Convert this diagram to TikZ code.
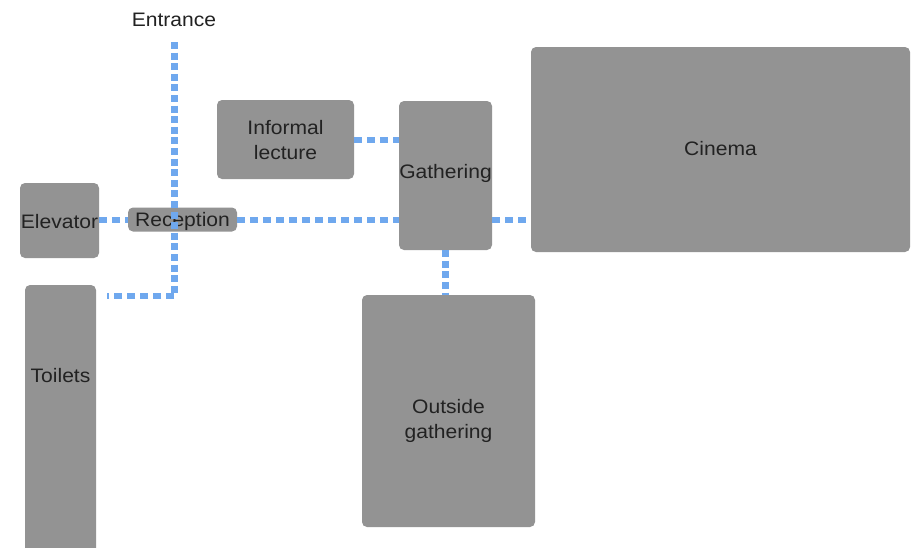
\documentclass[tikz,border=0pt]{standalone}
\usepackage{fontspec}
\setmainfont{Liberation Sans}[FakeStretch=1.08]
\definecolor{roomgray}{HTML}{939393}
\definecolor{pathblue}{HTML}{6FA8EE}
\definecolor{labeltext}{HTML}{222222}
\begin{document}
\begin{tikzpicture}[x=1pt,y=-1pt,
  room/.style={fill=roomgray,draw=none,rounded corners=5pt,inner sep=0pt,
    text=labeltext,font=\fontsize{19.5}{25}\selectfont,align=center},
  lbl/.style={text=labeltext,font=\fontsize{19.5}{25}\selectfont,inner sep=0pt,align=center},
  connh/.style={draw=pathblue,line width=6pt,dash pattern=on 8pt off 5pt},
  connv/.style={draw=pathblue,line width=7pt,dash pattern=on 7pt off 3.6pt}]
\useasboundingbox (0,0) rectangle (917,547);
\clip (0,0) rectangle (917,547);
\fill[white] (0,0) rectangle (917,547);
% rooms
\node[room,minimum width=79pt,minimum height=75pt] (elev) at (59.5,220.5) {};
\node[lbl] (elevlbl) at (59.5,221.5) {Elevator};
\node[room,minimum width=109pt,minimum height=24pt] (recep) at (182.5,219.5) {};
\node[lbl] (receplbl) at (182.5,221) {Reception};
\node[room,minimum width=71pt,minimum height=275pt] (toil) at (60.5,422.5) {};
\node[lbl] (toillbl) at (60.5,376) {Toilets};
\node[room,minimum width=137pt,minimum height=79pt] (inf) at (285.5,139.5) {};
\node[lbl] (inflbl) at (285.5,140.5) {Informal\\lecture};
\node[room,minimum width=93pt,minimum height=149pt] (gath) at (445.5,175.5) {};
\node[lbl] (gathlbl) at (445.5,173) {Gathering};
\node[room,minimum width=379pt,minimum height=205pt] (cin) at (720.5,149.5) {};
\node[lbl] (cinlbl) at (720.5,149) {Cinema};
\node[room,minimum width=173pt,minimum height=232pt] (out) at (448.5,411) {};
\node[lbl] (outlbl) at (448.5,421) {Outside\\gathering};
\node[lbl] (entr) at (174,20) {Entrance};
% connector points
\coordinate (door) at (174,42);
\coordinate (corner) at (174,296);
\coordinate (toildoor) at (107,296);
% connectors
\draw[connv] (door) -- (corner);
\draw[connh] (corner) -- (toildoor);
\draw[connh] (elev.east |- recep.west) -- (recep.west);
\draw[connh] (recep.east) -- (recep.east -| gath.west);
\draw[connh] (inf.east) -- (inf.east -| gath.west);
\draw[connh] (gath.east |- recep.east) -- (cin.west |- recep.east);
\draw[connv] (gath.south) -- (gath.south |- out.north);
\end{tikzpicture}
\end{document}
